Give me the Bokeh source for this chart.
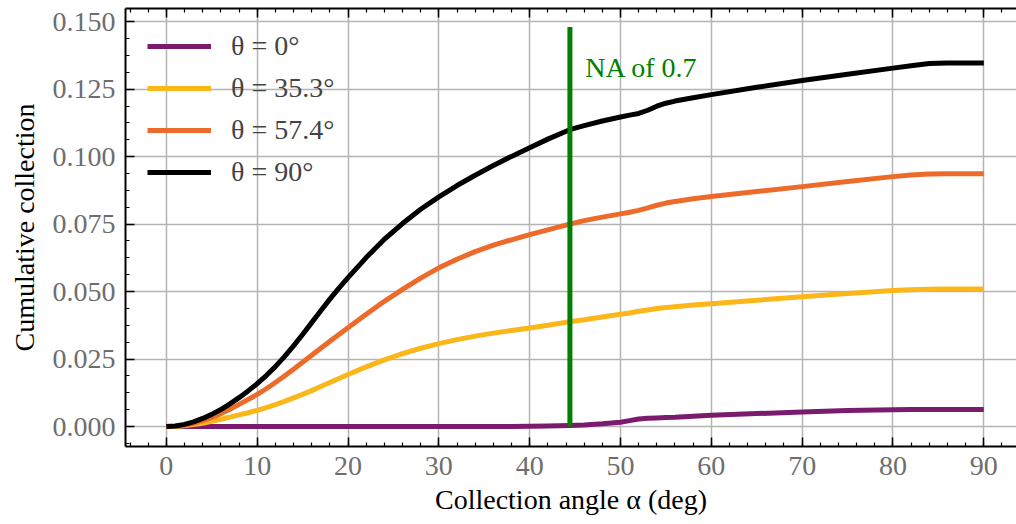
from bokeh.plotting import figure
from bokeh.models import (Range1d, LinearAxis, SingleIntervalTicker, NumeralTickFormatter,
                          Legend, LegendItem, ColumnDataSource, Grid, CustomLabelingPolicy)
from bokeh.core.properties import value
from bokeh.embed import file_html
from bokeh.resources import INLINE

# ---- data ----
alpha = [0, 1, 2, 3, 4, 5, 6, 7, 8, 9, 10, 11, 12, 13, 14, 15, 16, 17, 18, 19, 20,
         22, 24, 26, 28, 30, 32, 34, 36, 38, 40, 42, 44.4, 46, 48, 50, 51, 52, 53, 54, 55,
         56, 58, 60, 65, 70, 75, 80, 82, 84, 86, 90]
theta_0 = [0, 0, 0, 0, 0, 0, 0, 0, 0, 0, 0, 0, 0, 0, 0, 0, 0, 0, 0, 0, 0,
           0, 0, 0, 0, 0, 0, 0, 0, 0, 0.0001, 0.0002, 0.0004, 0.0006, 0.0010, 0.0016, 0.0022,
           0.0028, 0.0031, 0.0032, 0.0033, 0.0034, 0.0038, 0.0042, 0.0048, 0.0054, 0.0059,
           0.0062, 0.0063, 0.0063, 0.0063, 0.0063]
theta_35 = [0, 0.0000, 0.0003, 0.0007, 0.0012, 0.0019, 0.0027, 0.0035, 0.0043, 0.0051, 0.0060,
            0.0070, 0.0081, 0.0093, 0.0106, 0.0119, 0.0133, 0.0148, 0.0163, 0.0178, 0.0193,
            0.0221, 0.0247, 0.0270, 0.0290, 0.0307, 0.0322, 0.0335, 0.0346, 0.0356, 0.0365,
            0.0375, 0.0388, 0.0396, 0.0406, 0.0416, 0.0421, 0.0427, 0.0432, 0.0437, 0.0441,
            0.0444, 0.0450, 0.0455, 0.0468, 0.0481, 0.0493, 0.0504, 0.0507, 0.0509, 0.0510, 0.0510]
theta_57 = [0, 0.0001, 0.0005, 0.0012, 0.0022, 0.0034, 0.0048, 0.0064, 0.0082, 0.0100, 0.0119,
            0.0140, 0.0163, 0.0187, 0.0212, 0.0238, 0.0264, 0.0290, 0.0316, 0.0341, 0.0366,
            0.0416, 0.0464, 0.0508, 0.0550, 0.0588, 0.0620, 0.0648, 0.0672, 0.0692, 0.0711,
            0.0729, 0.0750, 0.0763, 0.0776, 0.0788, 0.0794, 0.0801, 0.0810, 0.0820, 0.0828,
            0.0834, 0.0844, 0.0852, 0.0871, 0.0889, 0.0908, 0.0926, 0.0932, 0.0936, 0.0937, 0.0937]
theta_90 = [0, 0.0002, 0.0008, 0.0017, 0.0030, 0.0045, 0.0063, 0.0084, 0.0107, 0.0132, 0.0159,
            0.0189, 0.0222, 0.0259, 0.0299, 0.0341, 0.0385, 0.0429, 0.0472, 0.0513, 0.0552,
            0.0626, 0.0694, 0.0752, 0.0805, 0.0851, 0.0893, 0.0931, 0.0967, 0.1001, 0.1033,
            0.1065, 0.1100, 0.1115, 0.1132, 0.1147, 0.1154, 0.1160, 0.1172, 0.1187, 0.1198,
            0.1206, 0.1218, 0.1230, 0.1257, 0.1282, 0.1305, 0.1328, 0.1337, 0.1345, 0.1347, 0.1347]
labels = ["θ = 0°", "θ = 35.3°", "θ = 57.4°", "θ = 90°"]
colors = ["#7a1b6d", "#fbb61a", "#ed6b2a", "#000000"]
na_angle = 44.43
na_top = 0.148
na_label = "NA of 0.7"

FONT = "Liberation Serif"
FS = "28px"

p = figure(width=1016, height=524, output_backend="svg", toolbar_location=None,
           x_range=Range1d(-4.5, 93.6), y_range=Range1d(-0.0074, 0.1549),
           min_border_left=125, min_border_right=0, min_border_top=8, min_border_bottom=78,
           x_axis_type=None, y_axis_type=None)
p.outline_line_color = None
p.background_fill_color = "white"

xt = SingleIntervalTicker(interval=10, num_minor_ticks=5)
yt = SingleIntervalTicker(interval=0.025, num_minor_ticks=4)

def style_axis(ax, show_labels=True):
    ax.axis_line_color = "black"
    ax.axis_line_width = 2
    ax.major_tick_in = 9
    ax.major_tick_out = 0
    ax.minor_tick_in = 4
    ax.minor_tick_out = 0
    ax.major_tick_line_color = "black"
    ax.minor_tick_line_color = "black"
    ax.major_tick_line_width = 1.5
    ax.minor_tick_line_width = 1.2
    ax.major_label_text_font = FONT
    ax.major_label_text_font_size = FS if show_labels else "0px"
    ax.major_label_text_color = "#6e6e6e"
    ax.axis_label_text_font = FONT
    ax.axis_label_text_font_size = FS
    ax.axis_label_text_font_style = "normal"
    ax.axis_label_text_color = "black"

xb = LinearAxis(ticker=xt, axis_label="Collection angle α (deg)")
style_axis(xb)
xb.major_label_standoff = 10
xb.axis_label_standoff = 6
p.add_layout(xb, "below")

xa = LinearAxis(ticker=xt)
style_axis(xa, show_labels=False)
xa.major_label_standoff = 0
xa.major_label_policy = CustomLabelingPolicy(
    code="const all = [...indices]; for (const i of all) { indices.unset(i) } return indices")
p.add_layout(xa, "above")

yl = LinearAxis(ticker=yt, axis_label="Cumulative collection",
                formatter=NumeralTickFormatter(format="0.000"))
style_axis(yl)
yl.major_label_standoff = 10
yl.axis_label_standoff = 10
p.add_layout(yl, "left")

p.xgrid.visible = False
p.ygrid.visible = False
p.add_layout(Grid(dimension=0, ticker=xt, grid_line_color="#b4b4b4", grid_line_width=1.5))
p.add_layout(Grid(dimension=1, ticker=yt, grid_line_color="#b4b4b4", grid_line_width=1.5))

series = [theta_0, theta_35, theta_57, theta_90]
renderers = []
for lab, col, ys in zip(labels, colors, series):
    src = ColumnDataSource(dict(x=alpha, y=ys))
    r = p.line("x", "y", source=src, line_color=col, line_width=5, line_join="round")
    renderers.append((lab, r))

# NA line
p.segment(x0=[na_angle], y0=[0], x1=[na_angle], y1=[na_top], line_color="#008000", line_width=5)
p.text(x=[na_angle + 1.7], y=[0.133], text=[na_label], text_color="#008000",
       text_font=value(FONT), text_font_size=FS, text_baseline="alphabetic", text_align="left")

legend = Legend(items=[LegendItem(label=lab, renderers=[r]) for lab, r in renderers],
                location="top_left", margin=22, padding=0, spacing=10,
                glyph_width=64, glyph_height=30, label_height=30, label_standoff=20,
                label_text_font=FONT, label_text_font_size=FS,
                background_fill_alpha=0, border_line_color=None)
p.add_layout(legend, "center")

open("out.html", "w").write(file_html(p, INLINE))
